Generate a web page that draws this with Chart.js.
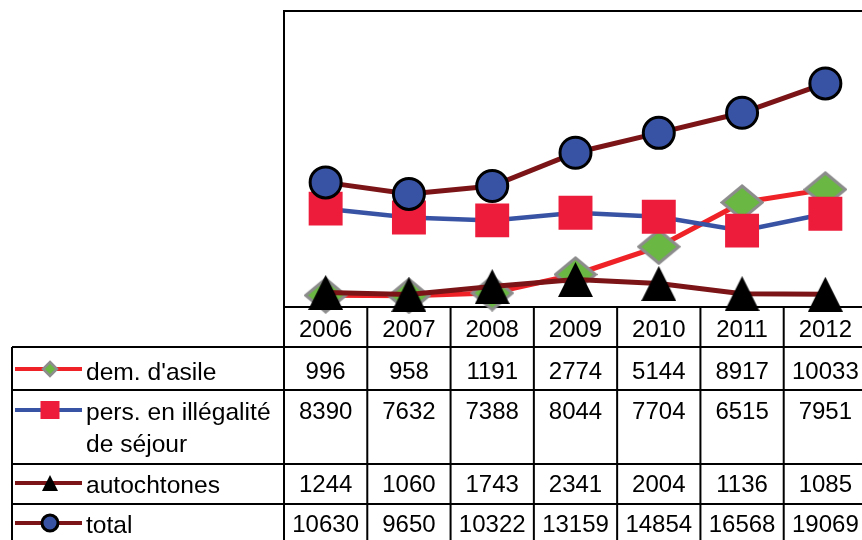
<!DOCTYPE html>
<html>
<head>
<meta charset="utf-8">
<script src="https://cdn.jsdelivr.net/npm/chart.js@4.4.1/dist/chart.umd.min.js"></script>
<style>
  html, body { margin: 0; padding: 0; background: #fff; overflow: hidden; }
  #wrap { width: 862px; height: 540px; overflow: hidden; }
  canvas { display: block; }
</style>
</head>
<body>
<div id="wrap"><canvas id="chart" width="870" height="540"></canvas></div>
<script>
// Yearly figures per category
const years = ['2006', '2007', '2008', '2009', '2010', '2011', '2012'];
const asile = [996, 958, 1191, 2774, 5144, 8917, 10033];
const illegal = [8390, 7632, 7388, 8044, 7704, 6515, 7951];
const autochtones = [1244, 1060, 1743, 2341, 2004, 1136, 1085];
const total = [10630, 9650, 10322, 13159, 14854, 16568, 19069];

// Row captions in the data table (one entry per line of text)
const rowLabels = [["dem. d'asile"], ['pers. en illégalité', 'de séjour'], ['autochtones'], ['total']];
const rowValues = [asile, illegal, autochtones, total];

const FONT = '24px "Liberation Sans", Arial, sans-serif';
const LABEL_FONT = '24.6px "Liberation Sans", Arial, sans-serif';

// Marker images for the diamond and triangle series
function makeDiamond(w, h, lw) {
  const c = document.createElement('canvas');
  c.width = w; c.height = h;
  const g = c.getContext('2d');
  const p = lw / 2 + 0.5;
  g.beginPath();
  g.moveTo(w / 2, p);
  g.lineTo(w - p, h / 2);
  g.lineTo(w / 2, h - p);
  g.lineTo(p, h / 2);
  g.closePath();
  g.fillStyle = '#6ab843';
  g.fill();
  g.lineWidth = lw;
  g.strokeStyle = '#8c8c8c';
  g.stroke();
  return c;
}

function makeTriangle(w, h) {
  const c = document.createElement('canvas');
  c.width = w; c.height = h;
  const g = c.getContext('2d');
  g.beginPath();
  g.moveTo(w / 2, 0);
  g.lineTo(w, h);
  g.lineTo(0, h);
  g.closePath();
  g.fillStyle = '#000';
  g.fill();
  return c;
}

const diamondBig = makeDiamond(44, 37, 3);
const triangleBig = makeTriangle(35, 35);

// Small markers for the captions of the table
function legendMark(ctx, i, cx, cy) {
  ctx.save();
  if (i === 0) {
    ctx.beginPath();
    ctx.moveTo(cx, cy - 7); ctx.lineTo(cx + 7, cy); ctx.lineTo(cx, cy + 7); ctx.lineTo(cx - 7, cy);
    ctx.closePath();
    ctx.fillStyle = '#6ab843'; ctx.fill();
    ctx.lineWidth = 2.5; ctx.strokeStyle = '#8c8c8c'; ctx.stroke();
  } else if (i === 1) {
    ctx.fillStyle = '#ec1c3a';
    ctx.fillRect(cx - 9.5, cy - 9, 19, 18);
  } else if (i === 2) {
    ctx.beginPath();
    ctx.moveTo(cx, cy - 8); ctx.lineTo(cx + 8, cy + 8); ctx.lineTo(cx - 8, cy + 8);
    ctx.closePath();
    ctx.fillStyle = '#000'; ctx.fill();
  } else {
    ctx.beginPath();
    ctx.arc(cx, cy, 8, 0, Math.PI * 2);
    ctx.fillStyle = '#3953a4'; ctx.fill();
    ctx.lineWidth = 3; ctx.strokeStyle = '#000'; ctx.stroke();
  }
  ctx.restore();
}

const lineColors = ['#ee2227', '#3953a4', '#7b1416', '#7b1416'];

const tablePlugin = {
  id: 'dataTable',
  beforeDatasetsDraw(chart) {
    const { ctx, chartArea: a, scales: { x } } = chart;
    const band = (a.right - a.left) / years.length;
    const rows = [347, 390, 464, 504];
    const bottom = 545;
    ctx.save();
    ctx.strokeStyle = '#000';
    ctx.lineWidth = 2;

    // plot frame
    ctx.strokeRect(a.left, a.top, a.right - a.left, a.bottom - a.top);

    ctx.beginPath();
    // table row lines
    rows.forEach(y => { ctx.moveTo(12, y); ctx.lineTo(a.right + 10, y); });
    // left edges
    ctx.moveTo(12, rows[0]); ctx.lineTo(12, bottom);
    ctx.moveTo(a.left, a.bottom); ctx.lineTo(a.left, bottom);
    // column dividers
    years.forEach((yr, i) => {
      const xr = x.getPixelForValue(i) + band / 2;
      ctx.moveTo(xr, a.bottom); ctx.lineTo(xr, bottom);
    });
    ctx.stroke();

    ctx.fillStyle = '#000';
    ctx.font = FONT;
    ctx.textBaseline = 'alphabetic';

    // year row
    ctx.textAlign = 'center';
    years.forEach((yr, i) => ctx.fillText(yr, x.getPixelForValue(i), 337));

    // value rows
    const baselines = [379, 419, 492, 532];
    rowValues.forEach((vals, r) => {
      vals.forEach((v, i) => ctx.fillText(String(v), x.getPixelForValue(i), baselines[r]));
    });

    // captions with their markers
    const markY = [369, 410, 483, 523];
    ctx.textAlign = 'left';
    ctx.font = LABEL_FONT;
    rowLabels.forEach((lines, r) => {
      lines.forEach((t, k) => ctx.fillText(t, 86, baselines[r] + 1 + k * 32));
      ctx.beginPath();
      ctx.moveTo(15, markY[r]); ctx.lineTo(82, markY[r]);
      ctx.lineWidth = 4;
      ctx.strokeStyle = lineColors[r];
      ctx.stroke();
      legendMark(ctx, r, 50, markY[r]);
    });
    ctx.restore();
  }
};

new Chart(document.getElementById('chart'), {
  type: 'line',
  data: {
    labels: years,
    datasets: [
      {
        label: "dem. d'asile",
        data: asile,
        order: 4,
        borderColor: lineColors[0],
        borderWidth: 5,
        pointStyle: diamondBig,
        pointRadius: 18,
        clip: false
      },
      {
        label: 'pers. en illégalité de séjour',
        data: illegal,
        order: 3,
        borderColor: lineColors[1],
        borderWidth: 4.5,
        pointStyle: 'rect',
        pointRadius: 24,
        pointBackgroundColor: '#ec1c3a',
        pointBorderWidth: 0,
        clip: false
      },
      {
        label: 'autochtones',
        data: autochtones,
        order: 2,
        borderColor: lineColors[2],
        borderWidth: 5,
        pointStyle: triangleBig,
        pointRadius: 18,
        clip: false
      },
      {
        label: 'total',
        data: total,
        order: 1,
        borderColor: lineColors[3],
        borderWidth: 5,
        pointStyle: 'circle',
        pointRadius: 15.5,
        pointBackgroundColor: '#3953a4',
        pointBorderColor: '#000',
        pointBorderWidth: 3,
        clip: false
      }
    ]
  },
  options: {
    responsive: false,
    animation: false,
    devicePixelRatio: 1,
    layout: { autoPadding: false, padding: { left: 284, top: 11, right: 3, bottom: 233 } },
    elements: { line: { tension: 0 } },
    scales: {
      x: { type: 'category', offset: true, display: false },
      y: { min: 0, max: 25250, display: false }
    },
    plugins: {
      legend: { display: false },
      tooltip: { enabled: false }
    }
  },
  plugins: [tablePlugin]
});
</script>
</body>
</html>
